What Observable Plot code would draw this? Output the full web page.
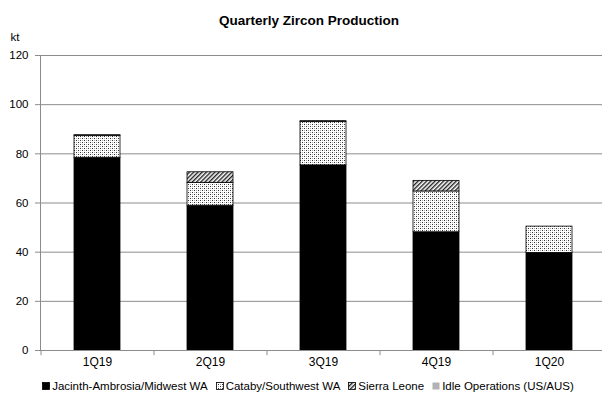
<!DOCTYPE html>
<html>
<head>
<meta charset="utf-8">
<script src="https://cdn.jsdelivr.net/npm/d3@7"></script>
<script src="https://cdn.jsdelivr.net/npm/@observablehq/plot@0.6"></script>
<style>
  body { margin: 0; background: #fff; font-family: "Liberation Sans", Arial, sans-serif; }
  #legend { height: 28px; display: flex; justify-content: center; align-items: center; font-size: 11.5px; color: #000; padding-left: 22px; box-sizing: border-box; }
  #legend span.item { display: inline-flex; align-items: center; margin-right: 8px; }
  #legend svg { margin-right: 2px; }
</style>
</head>
<body>
<div id="chart"></div>
<div id="legend"></div>
<script>
const title = "Quarterly Zircon Production";
const unitLabel = "kt";
const quarters = ["1Q19", "2Q19", "3Q19", "4Q19", "1Q20"];
const seriesNames = ["Jacinth-Ambrosia/Midwest WA", "Cataby/Southwest WA", "Sierra Leone", "Idle Operations (US/AUS)"];
const jacinth = [78.4, 58.9, 75.3, 48.1, 39.7];
const cataby = [8.8, 9.3, 17.6, 16.6, 10.7];
const sierra = [0, 4.3, 0.4, 4.3, 0];
const idle = [0.4, 0, 0, 0, 0];
const yTicks = [0, 20, 40, 60, 80, 100, 120];
const seriesFills = ["#000000", "url(#dots)", "url(#hatch)", "#b3b3b3"];

const seriesValues = [jacinth, cataby, sierra, idle];
const data = [];
quarters.forEach((q, i) => {
  seriesNames.forEach((s, j) => {
    data.push({quarter: q, series: s, value: seriesValues[j][i]});
  });
});

const W = 602, mL = 40, mR = -3;
const step = (W - mL - mR) / quarters.length;

const plot = Plot.plot({
  width: W,
  height: 372,
  marginTop: 55,
  marginBottom: 22,
  marginLeft: mL,
  marginRight: mR,
  style: {fontFamily: '"Liberation Sans", Arial, sans-serif', fontSize: "11px", color: "#000", background: "#fff"},
  x: {domain: quarters, paddingInner: 0.593, paddingOuter: 0.2965, label: null},
  y: {domain: [0, 120], label: null},
  color: {domain: seriesNames, range: seriesFills},
  marks: [
    Plot.gridY(yTicks, {stroke: "#8c8c8c", strokeOpacity: 1}),
    Plot.barY(data, Plot.stackY({x: "quarter", y: "value", fill: "series", stroke: "#000", strokeWidth: 0.8})),
    Plot.ruleY([0], {stroke: "#8c8c8c", strokeWidth: 1.2}),
    Plot.frame({anchor: "left", stroke: "#8c8c8c"}),
    Plot.ruleX(quarters, {x: d => d, dx: -step / 2, y1: 0, y2: -2.1, stroke: "#8c8c8c"}),
    Plot.axisY(yTicks, {tickSize: 5, tickPadding: 7, stroke: "#8c8c8c", label: null, fontSize: 11.5}),
    Plot.axisX({tickSize: 0, tickPadding: 7, label: null, fontSize: 12}),
    Plot.text([unitLabel], {frameAnchor: "top-left", dx: -30, dy: -23, textAnchor: "start", fontSize: 11.5}),
    Plot.text([title], {frameAnchor: "top", dx: -14, dy: -40, fontWeight: "bold", fontSize: 13.5})
  ]
});

const ns = "http://www.w3.org/2000/svg";
const defs = document.createElementNS(ns, "defs");
defs.innerHTML = `
  <pattern id="dots" width="4" height="4" patternUnits="userSpaceOnUse">
    <rect width="4" height="4" fill="#ffffff"/>
    <rect x="0" y="0" width="1" height="1" fill="#333"/>
    <rect x="2" y="2" width="1" height="1" fill="#333"/>
    <rect x="2" y="0" width="1" height="1" fill="#aaa"/>
    <rect x="0" y="2" width="1" height="1" fill="#aaa"/>
  </pattern>
  <pattern id="hatch" width="3" height="3" patternUnits="userSpaceOnUse" patternTransform="rotate(45)">
    <rect width="3" height="3" fill="#ffffff"/>
    <rect x="0" y="0" width="1.4" height="3" fill="#222"/>
  </pattern>`;
plot.insertBefore(defs, plot.firstChild);
document.getElementById("chart").appendChild(plot);

const legend = document.getElementById("legend");
seriesNames.forEach((s, j) => {
  const item = document.createElement("span");
  item.className = "item";
  const stroke = j === 3 ? "none" : "#000";
  item.innerHTML = `<svg width="8" height="8"><rect x="0.5" y="0.5" width="7" height="7" fill="${seriesFills[j]}" stroke="${stroke}" stroke-width="0.8"/></svg>`;
  const label = document.createElement("span");
  label.textContent = s;
  item.appendChild(label);
  legend.appendChild(item);
});
</script>
</body>
</html>
